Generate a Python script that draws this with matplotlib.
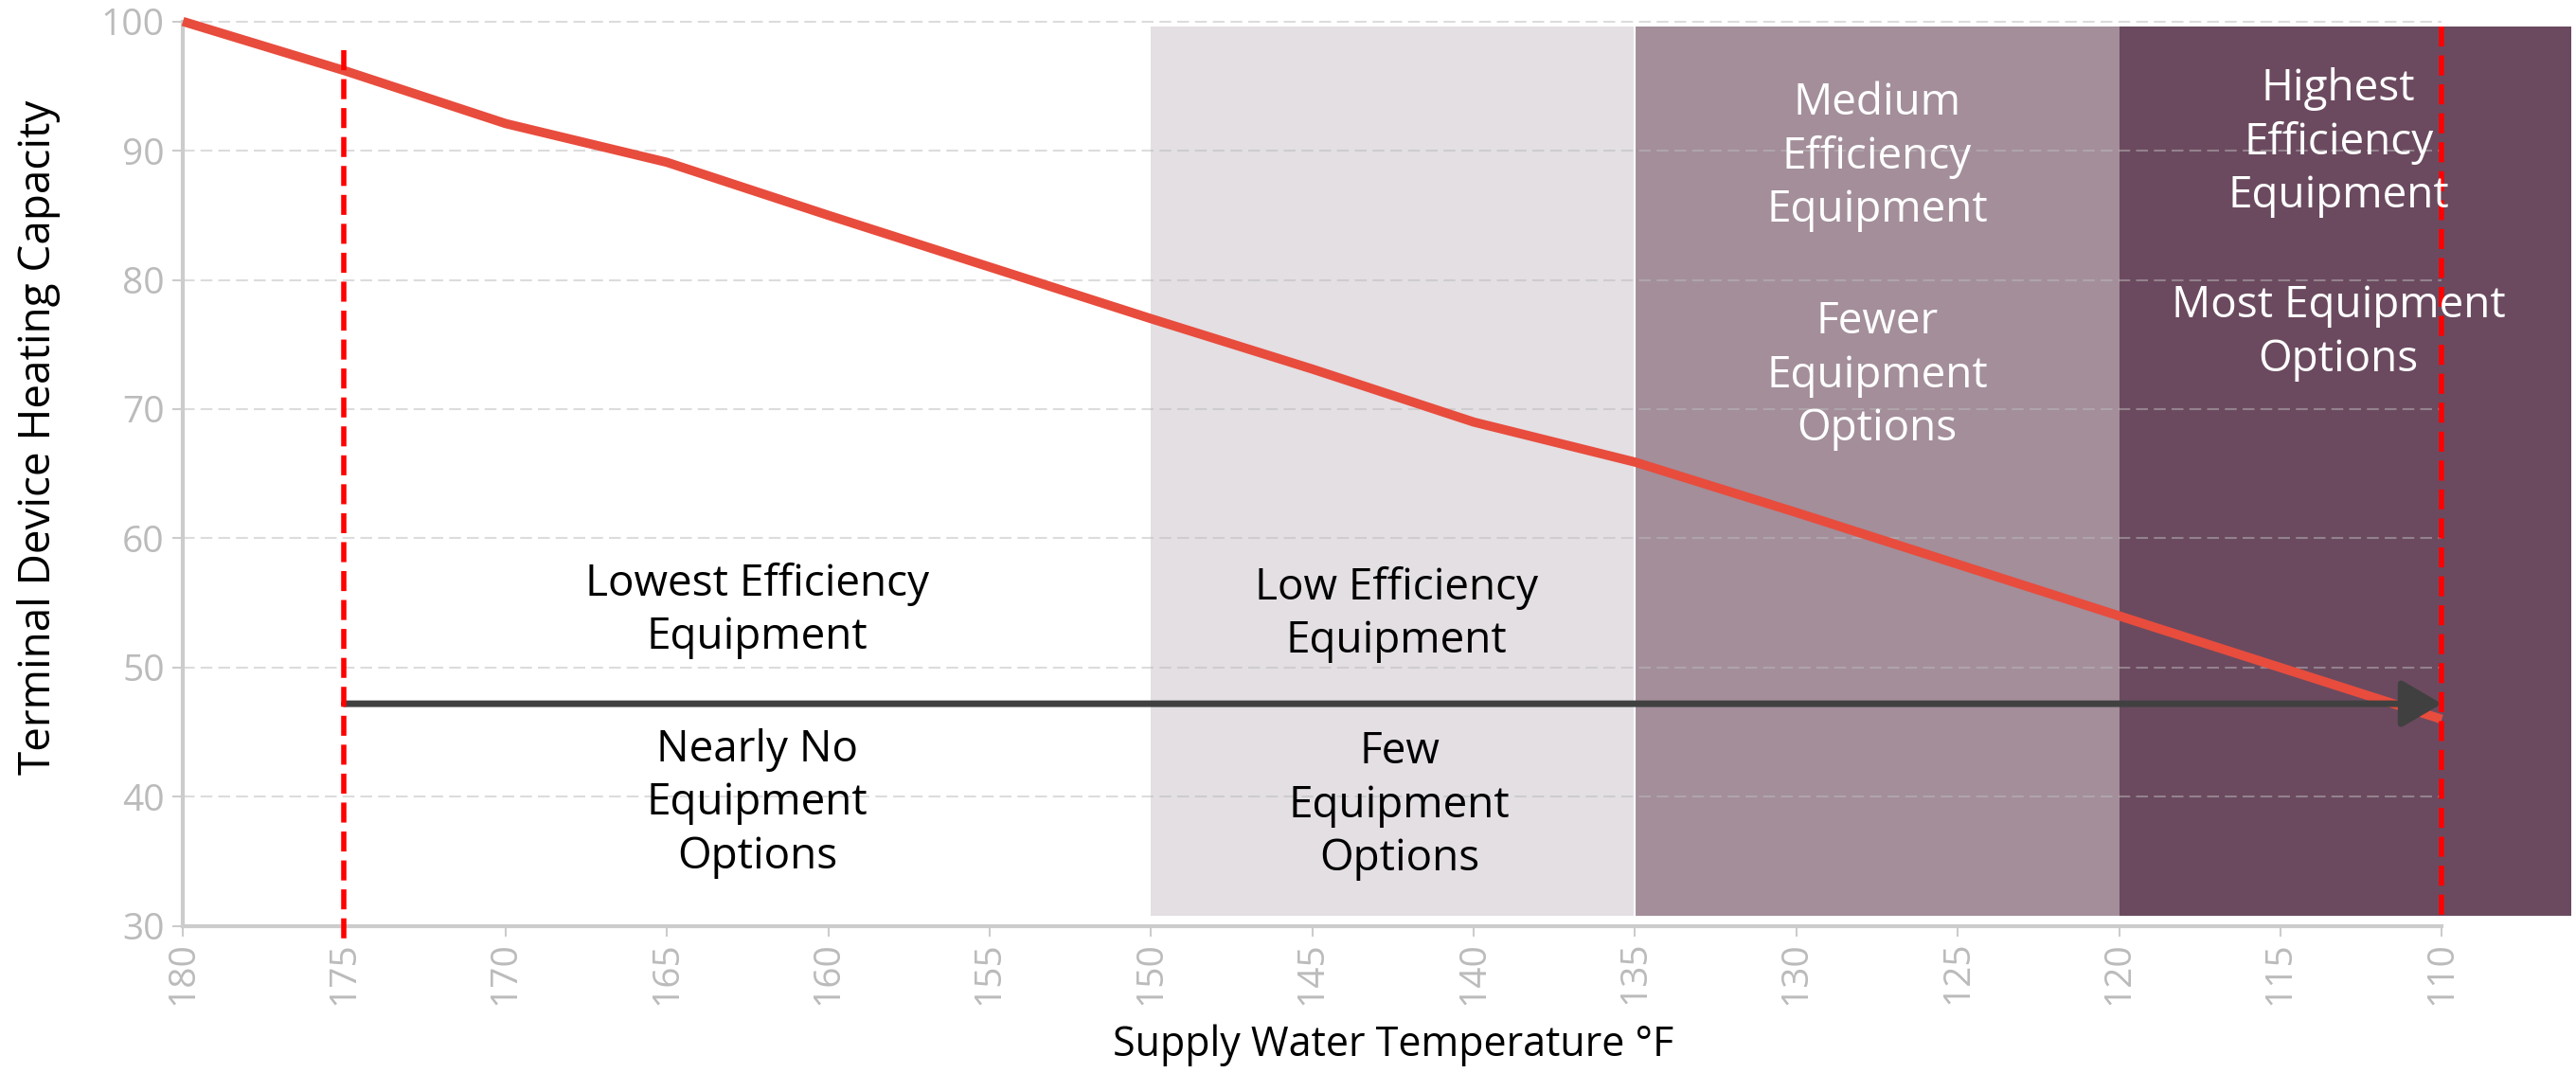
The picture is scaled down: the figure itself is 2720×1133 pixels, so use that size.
import matplotlib.pyplot as plt

plt.rcParams['font.family'] = ['Open Sans', 'DejaVu Sans']

# Data
temps = [180, 175, 170, 165, 160, 155, 150, 145, 140, 135, 130, 125, 120, 115, 110]
capacity = [100, 96.2, 92.1, 89.1, 85, 81, 77, 73.1, 69, 65.9, 62, 58, 54, 50, 46]

band_edges = [(150, 135), (135, 120), (120, 106)]
band_colors = ['#E3DFE3', '#A38E9A', '#6B4A5F']

limit_temps = [175, 110]
arrow_y = 47.2

labels = [
    ("Lowest Efficiency\nEquipment", 162.2, 54.4, 'black'),
    ("Nearly No\nEquipment\nOptions", 162.2, 39.5, 'black'),
    ("Low Efficiency\nEquipment", 142.4, 54.1, 'black'),
    ("Few\nEquipment\nOptions", 142.3, 39.3, 'black'),
    ("Medium\nEfficiency\nEquipment", 127.5, 89.5, 'white'),
    ("Fewer\nEquipment\nOptions", 127.5, 72.6, 'white'),
    ("Highest\nEfficiency\nEquipment", 113.2, 90.6, 'white'),
    ("Most Equipment\nOptions", 113.2, 75.9, 'white'),
]

yticks = [30, 40, 50, 60, 70, 80, 90, 100]
xticks = list(range(180, 109, -5))

fig = plt.figure(figsize=(27.2, 11.33), dpi=100)
ax = fig.add_axes([0.071, 0.137, 0.927, 0.843])
ax.set_xlim(180, 106)
ax.set_ylim(30, 100)

# Shaded bands
for (x0, x1), c in zip(band_edges, band_colors):
    ax.axvspan(x1, x0, ymin=0.011, ymax=0.994, color=c, lw=0, zorder=1)
ax.axvline(135, ymin=0.011, ymax=0.994, color='white', lw=1.5, zorder=1.5)

# Horizontal dashed grid (only up to 110)
for y in yticks[1:]:
    ax.plot([180, 110], [y, y], color='#bbbbbb', alpha=0.5, lw=1.5,
            dashes=(6, 3), zorder=2, clip_on=False)

# Capacity curve
ax.plot(temps, capacity, color='#E84C3D', lw=7, solid_capstyle='butt',
        solid_joinstyle='round', zorder=4, clip_on=False)

# Arrow
ax.annotate('', xy=(limit_temps[1], arrow_y), xytext=(limit_temps[0], arrow_y),
            arrowprops=dict(arrowstyle='-|>,head_length=0.65,head_width=0.38',
                            color='#404040', lw=5, mutation_scale=40,
                            shrinkA=0, shrinkB=0),
            zorder=5)

# Red dashed limit lines
ax.plot([limit_temps[0]] * 2, [97.8, 29.0], color='#FF0000', lw=4,
        dashes=(3.8, 1.7), zorder=6, clip_on=False)
ax.plot([limit_temps[1]] * 2, [99.6, 30.76], color='#FF0000', lw=4,
        dashes=(3.8, 1.7), zorder=6, clip_on=False)

# Text labels
for txt, x, y, c in labels:
    ax.text(x, y, txt, color=c, fontsize=33, ha='center', va='center',
            multialignment='center', linespacing=1.3, zorder=7)

# Axes styling
for s in ['top', 'right']:
    ax.spines[s].set_visible(False)
for s in ['left', 'bottom']:
    ax.spines[s].set_color('#cccccc')
    ax.spines[s].set_linewidth(3)
    ax.spines[s].set_zorder(3)
ax.spines['left'].set_bounds(30, 100)
ax.spines['bottom'].set_bounds(110, 180)

ax.set_yticks(yticks)
ax.set_xticks(xticks)
ax.set_xticklabels([str(t) for t in xticks], rotation=90)
ax.tick_params(axis='both', colors='#cccccc', labelcolor='#bbbbbb',
               labelsize=28, width=1.5, length=8)
ax.tick_params(axis='y', pad=6)

fig.text(0.541, 0.026, 'Supply Water Temperature °F', fontsize=31,
         ha='center', va='center')
fig.text(0.015, 0.592, 'Terminal Device Heating Capacity', fontsize=33,
         ha='center', va='center', rotation=90)

fig.savefig('out.png', dpi=100)
